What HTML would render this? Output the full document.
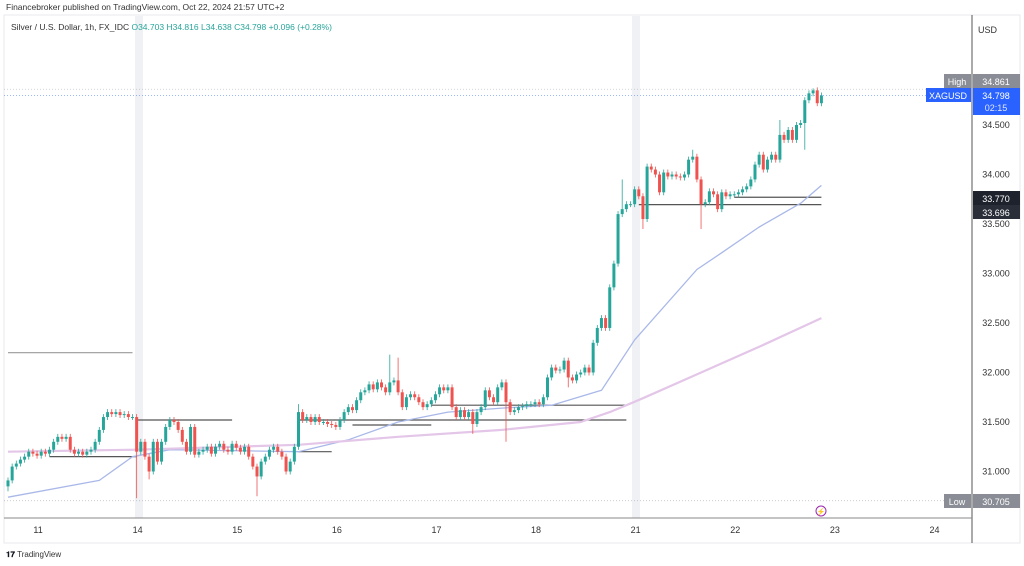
<!DOCTYPE html>
<html><head><meta charset="utf-8"><style>
body{margin:0;background:#fff;width:1024px;height:566px;overflow:hidden;font-family:"Liberation Sans",sans-serif}
svg{position:absolute;left:0;top:0}
</style></head><body>
<svg id="chart" width="1024" height="566" viewBox="0 0 1024 566" xmlns="http://www.w3.org/2000/svg" font-family="Liberation Sans, sans-serif">
<text x="6" y="10" font-size="8.5" fill="#333">Financebroker published on TradingView.com, Oct 22, 2024 21:57 UTC+2</text>
<rect x="4" y="15" width="1016" height="528" fill="none" stroke="#e8e8ec"/>
<rect x="135" y="16" width="8" height="502" fill="#f0f1f4"/>
<rect x="632" y="16" width="8" height="502" fill="#f0f1f4"/>
<text x="11" y="30" font-size="8.5" fill="#333">Silver / U.S. Dollar, 1h, FX_IDC <tspan fill="#26a69a">O34.703</tspan> <tspan fill="#26a69a">H34.816</tspan> <tspan fill="#26a69a">L34.638</tspan> <tspan fill="#26a69a">C34.798</tspan> <tspan fill="#26a69a">+0.096 (+0.28%)</tspan></text>
<line x1="972" y1="15" x2="972" y2="543" stroke="#555" stroke-width="1"/>
<line x1="4" y1="518" x2="972" y2="518" stroke="#888" stroke-width="1"/>
<text x="978" y="33" font-size="9" fill="#333">USD</text>
<g id="levels"></g><g id="mas"></g><g id="candles"></g><g id="axes"></g>
<g><rect x="944" y="74" width="27" height="14" fill="#8a8d96"/><text x="957" y="85" font-size="9" fill="#fff" text-anchor="middle">High</text><rect x="973" y="74" width="47" height="14" fill="#8a8d96"/><text x="996" y="85" font-size="9" fill="#fff" text-anchor="middle">34.861</text></g>
<g><rect x="926" y="88" width="45" height="14" fill="#2962ff"/><text x="948" y="99" font-size="9" fill="#fff" text-anchor="middle">XAGUSD</text><rect x="973" y="88" width="47" height="27" fill="#2962ff"/><text x="996" y="99" font-size="9" fill="#fff" text-anchor="middle">34.798</text><text x="996" y="111" font-size="9" fill="#dfe6ff" text-anchor="middle">02:15</text></g>
<g><rect x="973" y="191" width="47" height="14" fill="#1e222d"/><text x="996" y="202" font-size="9" fill="#fff" text-anchor="middle">33.770</text></g>
<g><rect x="973" y="205" width="47" height="14" fill="#2a2e39"/><text x="996" y="216" font-size="9" fill="#fff" text-anchor="middle">33.696</text></g>
<g><rect x="944" y="494" width="27" height="14" fill="#8a8d96"/><text x="957" y="505" font-size="9" fill="#fff" text-anchor="middle">Low</text><rect x="973" y="494" width="47" height="14" fill="#8a8d96"/><text x="996" y="505" font-size="9" fill="#fff" text-anchor="middle">30.705</text></g>
<g><circle cx="821" cy="511" r="5" fill="#fff" stroke="#9c27b0" stroke-width="1"/><text x="821" y="514" font-size="7" fill="#9c27b0" text-anchor="middle">⚡</text></g>
<text x="6" y="557" font-size="8" fill="#131722" font-weight="bold">𝟏𝟕 <tspan font-weight="normal" fill="#333">TradingView</tspan></text>
</svg>
<script>
const closes=[30.91,31.05,31.08,31.12,31.15,31.2,31.18,31.16,31.2,31.18,31.22,31.3,31.35,31.33,31.35,31.22,31.18,31.2,31.17,31.2,31.22,31.3,31.42,31.55,31.6,31.58,31.6,31.57,31.58,31.55,31.55,31.2,31.3,31.15,31.0,31.3,31.1,31.3,31.45,31.52,31.5,31.42,31.3,31.2,31.45,31.17,31.2,31.22,31.25,31.18,31.25,31.28,31.22,31.2,31.28,31.24,31.2,31.25,31.15,31.05,30.95,31.1,31.15,31.22,31.25,31.2,31.15,31.0,31.1,31.25,31.6,31.52,31.55,31.5,31.55,31.5,31.5,31.48,31.47,31.45,31.52,31.6,31.65,31.62,31.72,31.8,31.82,31.88,31.83,31.9,31.85,31.8,31.9,31.92,31.8,31.65,31.75,31.78,31.75,31.7,31.65,31.68,31.72,31.78,31.85,31.82,31.85,31.65,31.55,31.62,31.55,31.6,31.48,31.6,31.65,31.82,31.75,31.7,31.85,31.9,31.7,31.6,31.62,31.65,31.66,31.68,31.68,31.7,31.68,31.75,31.95,32.05,32.02,32.03,32.12,31.95,31.92,31.98,32.0,32.05,32.0,32.3,32.45,32.55,32.45,32.86,33.1,33.6,33.65,33.7,33.7,33.85,33.78,33.55,34.08,34.05,34.0,33.82,34.02,33.98,34.0,33.98,33.97,34.0,34.15,34.18,33.95,33.7,33.72,33.83,33.8,33.65,33.82,33.78,33.8,33.8,33.82,33.85,33.88,33.95,34.1,34.2,34.05,34.15,34.2,34.15,34.4,34.35,34.45,34.35,34.5,34.52,34.75,34.82,34.85,34.72,34.798];
const firstOpen=30.85;
const longWicks=[[0,30.8,null],[31,30.73,null],[34,30.92,null],[60,30.75,null],[70,null,31.68],[92,null,32.18],[94,null,32.15],[112,31.38,null],[120,31.3,null],[135,31.85,null],[148,null,33.95],[153,33.45,null],[165,null,34.25],[167,33.45,null],[186,null,34.55],[192,34.25,null],[194,null,34.87]];
const maBlueIdx=[0,22,30,39,70,82,94,106,119,131,143,151,166,172,181,191,196];
const maBlueVals=[30.74,30.91,31.15,31.22,31.2,31.32,31.5,31.6,31.64,31.67,31.82,32.33,33.04,33.21,33.47,33.71,33.89];
const maPurpleIdx=[0,31,70,94,119,138,145,153,167,181,196];
const maPurpleVals=[31.2,31.22,31.27,31.35,31.42,31.5,31.6,31.74,32.0,32.26,32.55];
const priceTicks=[31.0,31.5,32.0,32.5,33.0,33.5,34.0,34.5];
const dayLabels=["11","14","15","16","17","18","21","22","23","24"];
const dayIdx=[7,31,55,79,103,127,151,175,199,223];
const levelVals=[32.2,31.15,31.52,31.2,31.47,31.52,31.67,33.77,33.696];
const levelFrom=[0,10,31,70,83,70,102,175,152];
const levelTo=[30,31,54,78,102,149,149,196,196];
const NS="http://www.w3.org/2000/svg";
const y=p=>125+(34.5-p)*99;
const x=i=>8+i*4.15;
function mk(t,a,parent){const e=document.createElementNS(NS,t);for(const k in a)e.setAttribute(k,a[k]);parent.appendChild(e);return e;}
const gc=document.getElementById('candles'),gm=document.getElementById('mas'),gl=document.getElementById('levels'),ga=document.getElementById('axes');
[34.861,34.798,30.705].forEach((p,k)=>{const l=mk('line',{x1:4,x2:972,y1:y(p),y2:y(p),stroke:k==1?'#2962ff':'#9aa0aa','stroke-dasharray':'1 2','stroke-width':0.8,opacity:0.6},gl);

});
levelVals.forEach((v,k)=>{const l=mk('line',{x1:x(levelFrom[k]),x2:x(levelTo[k]),y1:y(v),y2:y(v),stroke:k==0?'#999':'#555','stroke-width':1.2},gl);

});
function maPath(idx,vals){let d='';idx.forEach((i,k)=>{d+=(k?'L':'M')+x(i).toFixed(1)+' '+y(vals[k]).toFixed(1);});return d;}
const pb=mk('path',{d:maPath(maBlueIdx,maBlueVals),fill:'none',stroke:'#a9b8e8','stroke-width':1.3,'stroke-linejoin':'round'},gm);


const pp=mk('path',{d:maPath(maPurpleIdx,maPurpleVals),fill:'none',stroke:'#e3c6e8','stroke-width':2.2,'stroke-linejoin':'round'},gm);


closes.forEach((c,i)=>{const o=i?closes[i-1]:firstOpen;let hi=Math.max(o,c)+0.03,lo=Math.min(o,c)-0.03;
longWicks.forEach(w=>{if(w[0]===i){if(w[1]!==null)lo=w[1];if(w[2]!==null)hi=w[2];}});
const col=c>=o?'#26a69a':'#ef5350';const g=mk('g',{},gc);


const cx=x(i);mk('line',{x1:cx,x2:cx,y1:y(hi),y2:y(lo),stroke:col,'stroke-width':0.8},g);
const t=y(Math.max(o,c)),b=y(Math.min(o,c));mk('rect',{x:cx-1.5,y:t,width:3,height:Math.max(1,b-t),fill:col},g);});
priceTicks.forEach(p=>{const t=mk('text',{x:996,y:y(p)+3,'font-size':9,fill:'#333','text-anchor':'middle'},ga);t.textContent=p.toFixed(3);

});
dayLabels.forEach((d,k)=>{const t=mk('text',{x:x(dayIdx[k])+1,y:533,'font-size':9,fill:'#333','text-anchor':'middle'},ga);t.textContent=d;

});
</script>
</body></html>
